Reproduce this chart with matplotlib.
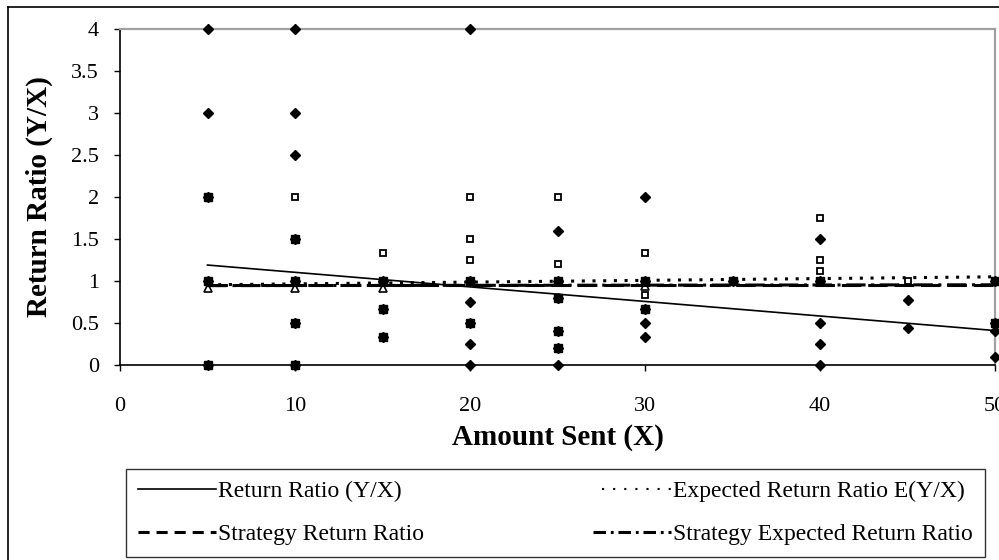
import matplotlib
matplotlib.use("Agg")
import matplotlib.pyplot as plt
from matplotlib.lines import Line2D

plt.rcParams['font.family'] = ['Liberation Serif', 'DejaVu Serif']
plt.rcParams['lines.scale_dashes'] = False

# ---- data ----
diamond_x = [5, 5, 5, 5, 5,
             10, 10, 10, 10, 10, 10, 10,
             15, 15, 15,
             20, 20, 20, 20, 20, 20,
             25, 25, 25, 25, 25, 25,
             30, 30, 30, 30, 30,
             35,
             40, 40, 40, 40, 40,
             45, 45,
             50, 50, 50, 50]
diamond_y = [4, 3, 2, 1, 0,
             4, 3, 2.5, 1.5, 1, 0.5, 0,
             1, 0.667, 0.333,
             4, 1, 0.75, 0.5, 0.25, 0,
             1.6, 1, 0.8, 0.4, 0.2, 0,
             2, 1, 0.667, 0.5, 0.333,
             1,
             1.5, 1, 0.5, 0.25, 0,
             0.778, 0.444,
             1, 0.5, 0.4, 0.1]

fsq_x = [5, 5, 5, 10, 10, 10, 10, 15, 15, 15, 20, 20, 25, 25, 25, 25, 30, 30, 35, 40, 50, 50]
fsq_y = [2, 1, 0, 1.5, 1, 0.5, 0, 1, 0.667, 0.333, 1, 0.5, 1, 0.8, 0.4, 0.2, 1, 0.667, 1, 1, 1, 0.5]

osq_x = [10, 15, 20, 20, 20, 25, 25, 30, 30, 40, 40, 40, 45]
osq_y = [2, 1.333, 2, 1.5, 1.25, 2, 1.2, 1.333, 0.833, 1.75, 1.25, 1.125, 1.0]

tri_x = [5, 10, 15, 30]
tri_y = [0.92, 0.92, 0.92, 0.94]

trend_x = [5, 50]
trend_actual = [1.19, 0.41]
trend_expected = [0.955, 1.05]
trend_strategy = [0.95, 0.95]
trend_strategy_exp = [0.945, 0.955]

legend_labels = ["Return Ratio (Y/X)", "Expected Return Ratio E(Y/X)",
                 "Strategy Return Ratio", "Strategy Expected Return Ratio"]

xticks = [0, 10, 20, 30, 40, 50]
yticks = [0, 0.5, 1, 1.5, 2, 2.5, 3, 3.5, 4]
ytick_labels = ["0", "0.5", "1", "1.5", "2", "2.5", "3", "3.5", "4"]

# ---- figure ----
fig = plt.figure(figsize=(9.99, 5.6), dpi=100)
ax = fig.add_axes([120/999, 1-365/560, 875/999, 336/560])

ax.plot(tri_x, tri_y, linestyle='none', marker='^', ms=6, mfc='white', mec='black', mew=1.2, zorder=3)
ax.plot(osq_x, osq_y, linestyle='none', marker='s', ms=5, mfc='white', mec='black', mew=1.3, zorder=3)
ax.plot(diamond_x, diamond_y, linestyle='none', marker='D', ms=5.5, mfc='black', mec='black', zorder=4, clip_on=False)
ax.plot(fsq_x, fsq_y, linestyle='none', marker='s', ms=5.5, mfc='black', mec='black', zorder=4, clip_on=False)

ax.plot(trend_x, trend_actual, color='black', lw=1.2, zorder=5)
ax.plot(trend_x, trend_expected, color='black', lw=2.2, dashes=(2.2, 5.5), dash_capstyle='butt', zorder=5)
ax.plot(trend_x, trend_strategy, color='black', lw=2.2, dashes=(14, 5), zorder=5)
ax.plot(trend_x, trend_strategy_exp, color='black', lw=2.2, dashes=(14, 4, 2.2, 4), zorder=5)

ax.set_xlim(0, 50)
ax.set_ylim(0, 4)
ax.set_xticks(xticks)
ax.set_xticklabels([str(v) for v in xticks])
ax.set_yticks(yticks)
ax.set_yticklabels(ytick_labels)
ax.tick_params(axis='both', direction='out', length=4, width=1, labelsize=16, color='black')
ax.tick_params(axis='x', pad=19)
ax.tick_params(axis='y', pad=11)

for s in ['left', 'bottom']:
    ax.spines[s].set_color('black')
    ax.spines[s].set_linewidth(1.2)
for s in ['top', 'right']:
    ax.spines[s].set_color('#a0a0a0')
    ax.spines[s].set_linewidth(1.6)

ax.set_xlabel("Amount Sent (X)", fontsize=21, fontweight='bold', labelpad=6)
ax.set_ylabel("Return Ratio (Y/X)", fontsize=21, fontweight='bold', labelpad=13)

# outer chart frame (top & left edges visible)
fig.add_artist(Line2D([8/999, 8/999], [0, 1-7/560], transform=fig.transFigure, color='black', lw=1.2))
fig.add_artist(Line2D([8/999, 1], [1-7/560, 1-7/560], transform=fig.transFigure, color='black', lw=1.2))

# legend
h_solid = Line2D([], [], color='black', lw=1.2)
h_dot = Line2D([], [], color='black', lw=1.5, linestyle=(1.5, (1.5, 6.5)))
h_dash = Line2D([], [], color='black', lw=2.2, dashes=(8, 5))
h_dd = Line2D([], [], color='black', lw=2.2, dashes=(9, 3.5, 2, 3.5))
leg = fig.legend([h_solid, h_dash, h_dot, h_dd],
                 [legend_labels[0], legend_labels[2], legend_labels[1], legend_labels[3]],
                 loc='lower left', bbox_to_anchor=(126/999, 3/560, 859/999, 0.15),
                 mode='expand', ncol=2, fontsize=17, frameon=True, fancybox=False,
                 handlelength=3.3, handletextpad=0.1, borderpad=0.5, labelspacing=0.9,
                 borderaxespad=0, columnspacing=1.0)
leg.get_frame().set_edgecolor('black')
leg.get_frame().set_linewidth(1.0)

fig.savefig("out.png", dpi=100)
